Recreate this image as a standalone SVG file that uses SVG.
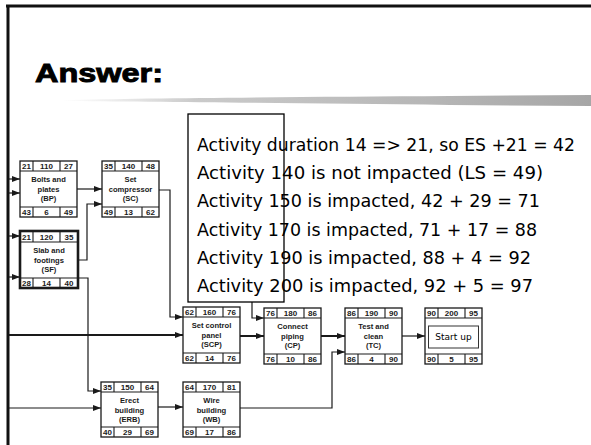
<svg xmlns="http://www.w3.org/2000/svg" width="591" height="445" viewBox="0 0 591 445">
<defs>
<linearGradient id="brush" x1="0" y1="0" x2="1" y2="0">
<stop offset="0" stop-color="#c8c8c8" stop-opacity="0"/>
<stop offset="0.25" stop-color="#bdbdbd" stop-opacity="0.8"/>
<stop offset="1" stop-color="#a6a6a6"/>
</linearGradient>
<marker id="ah" markerUnits="userSpaceOnUse" markerWidth="8" markerHeight="6" refX="8" refY="3" orient="auto">
<path d="M0,0 L8,3 L0,6 Z" fill="#1a1a1a"/>
</marker>
</defs>
<style>
.box{fill:#fff;stroke:#1a1a1a;stroke-width:1.3}
.thick{stroke-width:2.6}
.div{stroke:#1a1a1a;stroke-width:1.1;fill:none}
.num{font-family:"Liberation Sans",Arial,sans-serif;font-weight:bold;font-size:8px;fill:#1a1a1a;text-anchor:middle}
.lbl{font-family:"Liberation Sans",Arial,sans-serif;font-weight:bold;font-size:7.6px;fill:#1a1a1a;text-anchor:middle}
.con{fill:none;stroke:#1a1a1a;stroke-width:1.2}
.bold{stroke-width:2}
.note{font-family:"DejaVu Sans","Liberation Sans",sans-serif;font-size:17.5px;fill:#000}
</style>
<rect width="591" height="445" fill="#fff"/>
<!-- frame -->
<path d="M6,6 H591 M8,5 V445" fill="none" stroke="#111" stroke-width="3"/>
<!-- title -->
<text x="35" y="82" font-family="Liberation Sans,Arial,sans-serif" font-weight="900" font-size="25" fill="#000" stroke="#000" stroke-width="0.9" textLength="128" lengthAdjust="spacingAndGlyphs">Answer:</text>
<!-- brush stroke -->
<path d="M62,100 C150,98 300,97 450,96 L591,95 L591,106 L450,105 C300,103 150,102 62,101 Z" fill="url(#brush)"/>

<!-- connectors -->
<g id="connectors">
<path class="con" d="M9,179 H20" marker-end="url(#ah)"/>
<path class="con" d="M9,193 H20" marker-end="url(#ah)"/>
<path class="con" d="M9,236 H20" marker-end="url(#ah)"/>
<path class="con" d="M9,277 H20" marker-end="url(#ah)"/>
<path class="con" d="M77,189 H102" marker-end="url(#ah)"/>
<path class="con" d="M78,260 H87 V204 H102" marker-end="url(#ah)"/>
<path class="con" d="M78,278 H88 V391 H101" marker-end="url(#ah)"/>
<path class="con bold" d="M9,335 H183" marker-end="url(#ah)"/>
<path class="con" d="M9,408 H101" marker-end="url(#ah)"/>
<path class="con" d="M159,190 H170 V317 H183" marker-end="url(#ah)"/>
<path class="con" d="M252,290 V318 H264" marker-end="url(#ah)"/>
<path class="con bold" d="M240,336 H264" marker-end="url(#ah)"/>
<path class="con bold" d="M321,336 H345" marker-end="url(#ah)"/>
<path class="con" stroke-width="2.6" d="M402,336 H425" marker-end="url(#ah)"/>
<path class="con" d="M158,407 H183" marker-end="url(#ah)"/>
<path class="con" d="M240,408 H332 V352 H345" marker-end="url(#ah)"/>
</g>

<!-- nodes -->
<g id="BP" transform="translate(20,161)">
<rect class="box" width="57" height="56"/>
<path class="div" d="M0,10 H57 M0,46 H57 M13,0 V10 M40,0 V10 M13,46 V56 M40,46 V56"/>
<text class="num" x="6.5" y="8.3">21</text><text class="num" x="26.5" y="8.3">110</text><text class="num" x="48.5" y="8.3">27</text>
<text class="lbl" x="28.5" y="21">Bolts and</text><text class="lbl" x="28.5" y="30.5">plates</text><text class="lbl" x="28.5" y="40">(BP)</text>
<text class="num" x="6.5" y="54.3">43</text><text class="num" x="26.5" y="54.3">6</text><text class="num" x="48.5" y="54.3">49</text>
</g>
<g id="SC" transform="translate(102,161)">
<rect class="box" width="57" height="56"/>
<path class="div" d="M0,10 H57 M0,46 H57 M13,0 V10 M40,0 V10 M13,46 V56 M40,46 V56"/>
<text class="num" x="6.5" y="8.3">35</text><text class="num" x="26.5" y="8.3">140</text><text class="num" x="48.5" y="8.3">48</text>
<text class="lbl" x="28.5" y="21">Set</text><text class="lbl" x="28.5" y="30.5">compressor</text><text class="lbl" x="28.5" y="40">(SC)</text>
<text class="num" x="6.5" y="54.3">49</text><text class="num" x="26.5" y="54.3">13</text><text class="num" x="48.5" y="54.3">62</text>
</g>
<g id="SF" transform="translate(20,231)">
<rect class="box thick" width="58" height="57"/>
<path class="div" d="M0,11 H58 M0,47 H58 M13,0 V11 M40,0 V11 M13,47 V57 M40,47 V57"/>
<text class="num" x="6.5" y="9">21</text><text class="num" x="26.5" y="9">120</text><text class="num" x="49" y="9">35</text>
<text class="lbl" x="29" y="22">Slab and</text><text class="lbl" x="29" y="31.5">footings</text><text class="lbl" x="29" y="41">(SF)</text>
<text class="num" x="6.5" y="55">28</text><text class="num" x="26.5" y="55">14</text><text class="num" x="49" y="55">40</text>
</g>
<g id="SCP" transform="translate(183,307)">
<rect class="box" width="57" height="56"/>
<path class="div" d="M0,10 H57 M0,46 H57 M13,0 V10 M40,0 V10 M13,46 V56 M40,46 V56"/>
<text class="num" x="6.5" y="8.3">62</text><text class="num" x="26.5" y="8.3">160</text><text class="num" x="48.5" y="8.3">76</text>
<text class="lbl" x="28.5" y="21">Set control</text><text class="lbl" x="28.5" y="30.5">panel</text><text class="lbl" x="28.5" y="40">(SCP)</text>
<text class="num" x="6.5" y="54.3">62</text><text class="num" x="26.5" y="54.3">14</text><text class="num" x="48.5" y="54.3">76</text>
</g>
<g id="CP" transform="translate(264,308)">
<rect class="box" width="57" height="56"/>
<path class="div" d="M0,10 H57 M0,46 H57 M13,0 V10 M40,0 V10 M13,46 V56 M40,46 V56"/>
<text class="num" x="6.5" y="8.3">76</text><text class="num" x="26.5" y="8.3">180</text><text class="num" x="48.5" y="8.3">86</text>
<text class="lbl" x="28.5" y="21">Connect</text><text class="lbl" x="28.5" y="30.5">piping</text><text class="lbl" x="28.5" y="40">(CP)</text>
<text class="num" x="6.5" y="54.3">76</text><text class="num" x="26.5" y="54.3">10</text><text class="num" x="48.5" y="54.3">86</text>
</g>
<g id="TC" transform="translate(345,308)">
<rect class="box" width="57" height="56"/>
<path class="div" d="M0,10 H57 M0,46 H57 M13,0 V10 M40,0 V10 M13,46 V56 M40,46 V56"/>
<text class="num" x="6.5" y="8.3">86</text><text class="num" x="26.5" y="8.3">190</text><text class="num" x="48.5" y="8.3">90</text>
<text class="lbl" x="28.5" y="21">Test and</text><text class="lbl" x="28.5" y="30.5">clean</text><text class="lbl" x="28.5" y="40">(TC)</text>
<text class="num" x="6.5" y="54.3">86</text><text class="num" x="26.5" y="54.3">4</text><text class="num" x="48.5" y="54.3">90</text>
</g>
<g id="SU" transform="translate(425,308)">
<rect class="box" width="57" height="56"/>
<path class="div" d="M0,10 H57 M0,46 H57 M13,0 V10 M40,0 V10 M13,46 V56 M40,46 V56"/>
<text class="num" x="6.5" y="8.3">90</text><text class="num" x="26.5" y="8.3">200</text><text class="num" x="48.5" y="8.3">95</text>
<rect x="3.5" y="18" width="50" height="22" fill="#fff" stroke="#333" stroke-width="1"/>
<text x="28.5" y="32" font-family="DejaVu Sans,sans-serif" font-size="9" fill="#000" text-anchor="middle">Start up</text>
<text class="num" x="6.5" y="54.3">90</text><text class="num" x="26.5" y="54.3">5</text><text class="num" x="48.5" y="54.3">95</text>
</g>
<g id="ERB" transform="translate(101,382)">
<rect class="box" width="57" height="55"/>
<path class="div" d="M0,10 H57 M0,45 H57 M13,0 V10 M40,0 V10 M13,45 V55 M40,45 V55"/>
<text class="num" x="6.5" y="8.3">35</text><text class="num" x="26.5" y="8.3">150</text><text class="num" x="48.5" y="8.3">64</text>
<text class="lbl" x="28.5" y="21">Erect</text><text class="lbl" x="28.5" y="30.5">building</text><text class="lbl" x="28.5" y="40">(ERB)</text>
<text class="num" x="6.5" y="53.3">40</text><text class="num" x="26.5" y="53.3">29</text><text class="num" x="48.5" y="53.3">69</text>
</g>
<g id="WB" transform="translate(183,382)">
<rect class="box" width="57" height="55"/>
<path class="div" d="M0,10 H57 M0,45 H57 M13,0 V10 M40,0 V10 M13,45 V55 M40,45 V55"/>
<text class="num" x="6.5" y="8.3">64</text><text class="num" x="26.5" y="8.3">170</text><text class="num" x="48.5" y="8.3">81</text>
<text class="lbl" x="28.5" y="21">Wire</text><text class="lbl" x="28.5" y="30.5">building</text><text class="lbl" x="28.5" y="40">(WB)</text>
<text class="num" x="6.5" y="53.3">69</text><text class="num" x="26.5" y="53.3">17</text><text class="num" x="48.5" y="53.3">86</text>
</g>

<!-- annotation box -->
<g id="note">
<rect x="188" y="114" width="96" height="188" fill="#fff" stroke="#000" stroke-width="1.3"/>
<text class="note" x="197" y="151" textLength="378" lengthAdjust="spacingAndGlyphs">Activity duration 14 =&gt; 21, so ES +21 = 42</text>
<text class="note" x="197" y="179.2" textLength="346" lengthAdjust="spacingAndGlyphs">Activity 140 is not impacted (LS = 49)</text>
<text class="note" x="197" y="207.4" textLength="343" lengthAdjust="spacingAndGlyphs">Activity 150 is impacted, 42 + 29 = 71</text>
<text class="note" x="197" y="235.6" textLength="340" lengthAdjust="spacingAndGlyphs">Activity 170 is impacted, 71 + 17 = 88</text>
<text class="note" x="197" y="263.8" textLength="334" lengthAdjust="spacingAndGlyphs">Activity 190 is impacted, 88 + 4 = 92</text>
<text class="note" x="197" y="292" textLength="336" lengthAdjust="spacingAndGlyphs">Activity 200 is impacted, 92 + 5 = 97</text>
</g>
</svg>
